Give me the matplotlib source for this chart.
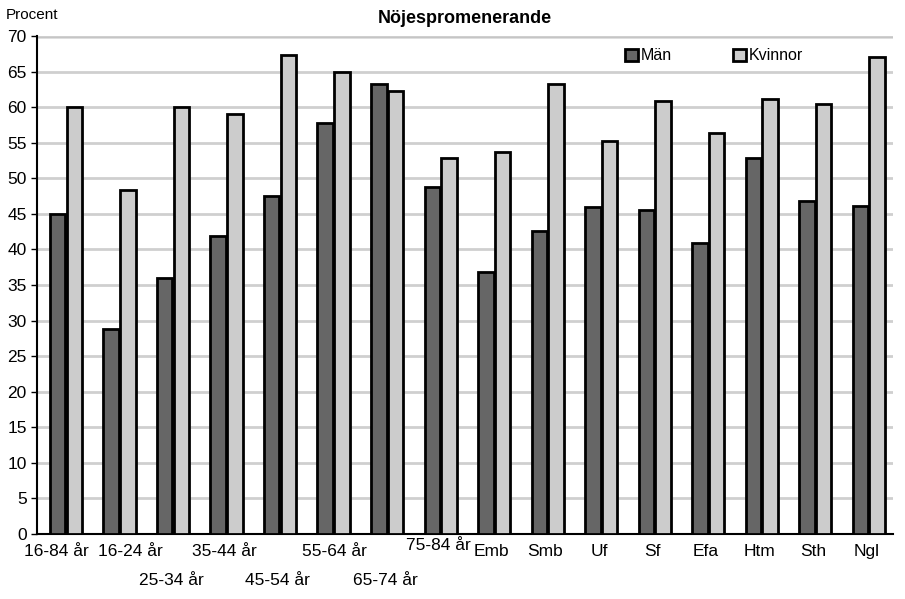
import numpy as np
import matplotlib.pyplot as plt

categories = ['16-84 år', '16-24 år', '25-34 år', '35-44 år', '45-54 år', '55-64 år',
              '65-74 år', '75-84 år', 'Emb', 'Smb', 'Uf', 'Sf', 'Efa', 'Htm', 'Sth', 'Ngl']
man = [45.0, 28.8, 36.0, 41.9, 47.5, 57.7, 63.3, 48.8, 36.8, 42.6, 45.9, 45.5, 40.9, 52.9, 46.8, 46.1]
kvinnor = [60.0, 48.3, 60.0, 59.0, 67.3, 65.0, 62.2, 52.8, 53.7, 63.2, 55.3, 60.8, 56.3, 61.1, 60.5, 67.0]
# label placement: vertical offset (axes fraction) and small horizontal shift (group units)
label_dy = [0.02, 0.02, 0.078, 0.02, 0.078, 0.02, 0.078, 0.008,
            0.02, 0.02, 0.02, 0.02, 0.02, 0.02, 0.02, 0.02]
label_dx = [-0.14, 0.24, 0, 0, 0, 0.05, 0, 0, 0, 0, 0, 0, 0, 0, 0, 0]

plt.rcParams['font.family'] = ['Liberation Sans', 'DejaVu Sans']

fig = plt.figure(figsize=(9.05, 5.99), dpi=100)
ax = fig.add_axes([0.041, 0.1085, 0.946, 0.8315])

x = np.arange(len(categories))
w = 0.29
ax.bar(x - w / 2 + 0.03, man, w, color='#666666', edgecolor='black', linewidth=2, label='Män', zorder=3)
ax.bar(x + w / 2 + 0.05, kvinnor, w, color='#cccccc', edgecolor='black', linewidth=2, label='Kvinnor', zorder=3)

ax.set_xlim(-0.5, len(categories) - 0.5)
ax.set_ylim(0, 70)
ax.set_yticks(range(0, 71, 5))
ax.yaxis.grid(True, color='#cfcfcf', linewidth=2, zorder=0)
ax.axhline(70, color='#777777', linewidth=2.5, zorder=1)
for s in ['top', 'right']:
    ax.spines[s].set_visible(False)
ax.spines['left'].set_linewidth(1.5)
ax.spines['bottom'].set_linewidth(1.5)
ax.tick_params(axis='y', labelsize=12.5, length=4, width=1)
ax.set_xticks([])

for i, lab in enumerate(categories):
    ax.text(x[i] + label_dx[i], -label_dy[i], lab, transform=ax.get_xaxis_transform(),
            ha='center', va='top', fontsize=12.5)

ax.set_title('Nöjespromenerande', fontsize=13, fontweight='bold', pad=9)
fig.text(0.006, 0.963, 'Procent', fontsize=11, ha='left', va='bottom')

ax.legend(loc='upper left', bbox_to_anchor=(0.67, 1.004), ncol=2, frameon=False, fontsize=11.5,
          handlelength=0.8, handleheight=0.8, columnspacing=3.8, handletextpad=0.2)

fig.savefig('out.png', dpi=100)
